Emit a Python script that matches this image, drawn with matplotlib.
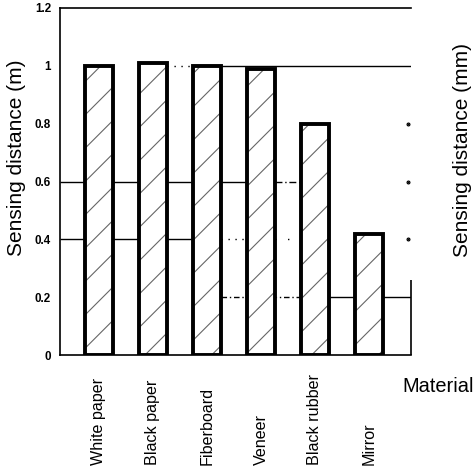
import matplotlib
matplotlib.use("Agg")
import matplotlib.pyplot as plt
from matplotlib.transforms import blended_transform_factory

# Sensing distance by target material
materials = ["White paper", "Black paper", "Fiberboard", "Veneer", "Black rubber", "Mirror"]
distance_m = [1.00, 1.01, 1.00, 0.99, 0.80, 0.42]
y_ticks = [0, 0.2, 0.4, 0.6, 0.8, 1.0, 1.2]
y_tick_labels = ["0", "0.2", "0.4", "0.6", "0.8", "1", "1.2"]

DPI = 200
plt.rcParams["font.family"] = ["Liberation Sans", "DejaVu Sans"]
plt.rcParams["hatch.linewidth"] = 0.4

fig = plt.figure(figsize=(476 / DPI, 468 / DPI), dpi=DPI)
ax = fig.add_axes([60 / 476, 1 - 355 / 468, 351 / 476, 347 / 468])

x = list(range(len(materials)))
xmin, xmax = -0.722, 5.78
ax.set_xlim(xmin, xmax)
ax.set_ylim(0, 1.2)

# faint reference lines, partly broken
gl = dict(color="black", lw=0.5, zorder=1)
ax.hlines(1.0, 1.26, 1.74, linestyles=(0, (1, 4)), **gl)
ax.hlines(1.0, 2.26, xmax, linestyles="solid", **gl)
ax.hlines(0.6, xmin, 3.0, linestyles="solid", **gl)
ax.hlines(0.6, 3.26, 3.74, linestyles=(0, (5, 2, 1, 2)), **gl)
ax.hlines(0.4, xmin, 2.0, linestyles="solid", **gl)
ax.hlines(0.4, 2.26, 2.74, linestyles=(0, (1, 4)), **gl)
ax.hlines(0.4, 3.26, 3.74, linestyles=(0, (1, 8)), **gl)
ax.hlines(0.2, 2.26, 3.74, linestyles=(0, (4, 2, 1, 2)), **gl)
ax.hlines(0.2, 4.26, xmax, linestyles="solid", **gl)
ax.plot([5.72, 5.72, 5.72], [0.8, 0.6, 0.4], ls="none", marker="o",
        ms=0.45, color="black", zorder=1)

# bars: grey hatch fill, then heavy black outline
width = 0.52
ax.bar(x, distance_m, width=width, color="white", edgecolor="#666666",
       hatch="//", linewidth=0, zorder=2)
ax.bar(x, distance_m, width=width, fill=False, edgecolor="black",
       linewidth=1.4, zorder=3)

# axes frame: left, bottom, top; short stub on the right
for side in ("left", "bottom", "top"):
    ax.spines[side].set_linewidth(0.6)
ax.spines["right"].set_visible(False)
ax.vlines(xmax, 0, 0.26, color="black", lw=0.6, zorder=3, clip_on=False)

ax.set_yticks(y_ticks)
ax.set_yticklabels(y_tick_labels, fontsize=4.2, fontweight="bold")
ax.tick_params(axis="y", length=0, pad=3.2)
ax.set_xticks([])

trans = blended_transform_factory(ax.transData, fig.transFigure)
for xi, name in zip(x, materials):
    ax.text(xi, 3 / 468, name, transform=trans, rotation=90,
            ha="center", va="bottom", fontsize=5.8)

fig.text(17 / 476, 1 - 158 / 468, "Sensing distance (m)", rotation=90,
         ha="center", va="center", fontsize=7.5)
fig.text(463 / 476, 1 - 150 / 468, "Sensing distance (mm)", rotation=90,
         ha="center", va="center", fontsize=7.5)
fig.text(438 / 476, 1 - 387 / 468, "Material", ha="center", va="center",
         fontsize=7.2)

fig.savefig("out.png", dpi=DPI)
